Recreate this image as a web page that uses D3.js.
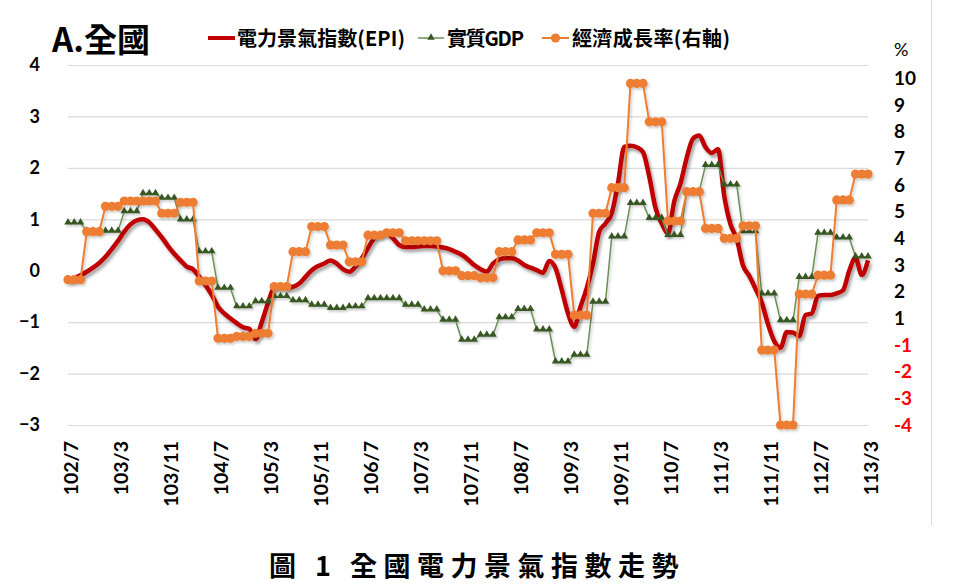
<!DOCTYPE html>
<html>
<head>
<meta charset="utf-8">
<script src="https://cdn.jsdelivr.net/npm/d3@7"></script>
<style>
  body { margin: 0; background: #fff; }
  svg { display: block; }
</style>
</head>
<body>
<div id="vis"></div>
<script>
var width = 959;
var height = 587;

// x axis tick labels (every 8 months, ROC year/month)
const TICK_LABELS = ["102/7", "103/3", "103/11", "104/7", "105/3", "105/11", "106/7", "107/3",
  "107/11", "108/7", "109/3", "109/11", "110/7", "111/3", "111/11", "112/7", "113/3"];

// right axis labels, as printed on the chart (bottom to top)
const RIGHT_LABELS = ["-4", "-3", "-2", "-1", "1", "2", "3", "4", "5", "6", "7", "8", "9", "10"];

// 電力景氣指數(EPI), monthly 102/7 .. 113/3
const EPI = [
  -0.19, -0.15, -0.09, -0.02, 0.06, 0.15, 0.27, 0.42, 0.58, 0.76, 0.9, 0.98,
  1.0, 0.94, 0.8, 0.65, 0.48, 0.33, 0.2, 0.08, 0.03, -0.12, -0.28, -0.47,
  -0.7, -0.83, -0.93, -1.02, -1.1, -1.13, -1.33, -1.0, -0.63, -0.32, -0.3, -0.32,
  -0.31, -0.25, -0.12, 0.01, 0.09, 0.14, 0.2, 0.14, 0.03, -0.02, 0.08, 0.24,
  0.44, 0.63, 0.71, 0.73, 0.63, 0.5, 0.46, 0.46, 0.47, 0.48, 0.48, 0.47,
  0.45, 0.42, 0.37, 0.31, 0.22, 0.11, 0.03, -0.02, 0.14, 0.22, 0.24, 0.24,
  0.2, 0.11, 0.06, 0.01, -0.04, 0.19, 0.05, -0.37, -0.83, -1.09, -0.7, -0.34,
  0.14, 0.76, 0.92, 1.12, 1.7, 2.41, 2.43, 2.4, 2.31, 1.83, 1.22, 0.92,
  0.72, 1.35, 1.7, 2.2, 2.57, 2.63, 2.4, 2.29, 2.36, 1.45, 0.9, 0.62,
  0.1, -0.1, -0.35, -0.62, -1.04, -1.37, -1.5, -1.19, -1.2, -1.27, -0.86, -0.83,
  -0.49, -0.47, -0.47, -0.44, -0.38, 0.0, 0.25, -0.08, 0.2
];

// 實質GDP (left axis), quarterly 102Q3 .. 113Q1
const GDP = [
  0.93, 0.77, 0.77, 1.15, 1.5, 1.41, 0.99, 0.37, -0.34, -0.7,
  -0.6, -0.5, -0.58, -0.67, -0.73, -0.7, -0.54, -0.54, -0.67, -0.76,
  -0.96, -1.35, -1.25, -0.91, -0.75, -1.15, -1.77, -1.64, -0.61, 0.66,
  1.31, 1.02, 0.69, 1.54, 2.05, 1.67, 0.76, -0.45, -0.97, -0.13,
  0.73, 0.64, 0.27
];

// 經濟成長率 (right axis, %), quarterly 102Q3 .. 113Q1
const GROWTH = [
  1.45, 3.25, 4.2, 4.4, 4.4, 3.94, 4.35, 1.4, -0.75, -0.68,
  -0.56, 1.19, 2.5, 3.44, 2.75, 2.12, 3.12, 3.21, 2.91, 2.91,
  1.78, 1.6, 1.52, 2.5, 2.94, 3.21, 2.4, 0.12, 3.94, 4.9,
  8.81, 7.37, 3.65, 4.75, 3.37, 3.0, 3.47, -1.19, -4.0, 0.91,
  1.62, 4.44, 5.41
];

const RED = "#C00000";
const GREEN_LINE = "#6a8f55";
const GREEN_MARK = "#375623";
const ORANGE = "#ED7D31";
const NUM_FONT = "Lato, 'Open Sans', sans-serif";
const CJK_FONT = "'Noto Sans CJK TC', 'Noto Sans', sans-serif";

// month categories 102/7 .. 113/3
var months = [];
for (var k = 0; k < EPI.length; k++) {
  var m = 7 + k;
  months.push((102 + Math.floor((m - 1) / 12)) + "/" + (((m - 1) % 12) + 1));
}
// quarterly values are plotted on each month of the quarter
function monthly(q) {
  return months.map(function (mo, i) { return { m: mo, v: q[Math.floor(i / 3)] }; });
}

var svg = d3.select("#vis").append("svg")
  .attr("width", width)
  .attr("height", height);

var defs = svg.append("defs");
var f = defs.append("filter").attr("id", "shadow")
  .attr("x", "-5%").attr("y", "-5%").attr("width", "110%").attr("height", "120%");
f.append("feDropShadow").attr("dx", 2).attr("dy", 3).attr("stdDeviation", 1.6)
  .attr("flood-color", "#000").attr("flood-opacity", 0.35);
var f2 = defs.append("filter").attr("id", "shadow2")
  .attr("x", "-5%").attr("y", "-5%").attr("width", "110%").attr("height", "120%");
f2.append("feDropShadow").attr("dx", 1.5).attr("dy", 2).attr("stdDeviation", 1.2)
  .attr("flood-color", "#000").attr("flood-opacity", 0.2);

// Scales
var x = d3.scalePoint().domain(months).range([68, 868]);
var yL = d3.scaleLinear().domain([-3, 4]).range([425, 65]);
var yR = d3.scaleLinear().domain([-4, 9.5]).range([425, 65]);

// border line on the right
svg.append("line").attr("x1", 931.5).attr("x2", 931.5).attr("y1", 0).attr("y2", 525)
  .attr("stroke", "#d9d9d9").attr("stroke-width", 1);

// Grid
svg.append("g")
  .attr("transform", "translate(68,0)")
  .call(d3.axisLeft(yL).tickValues([-3, -2, -1, 1, 2, 3, 4]).tickSize(-800).tickFormat(""))
  .call(function (g) { g.select(".domain").remove(); })
  .selectAll("line").attr("stroke", "#d9d9d9").attr("stroke-width", 1.2);

// Left axis
svg.append("g")
  .attr("transform", "translate(68,0)")
  .call(d3.axisLeft(yL).ticks(7).tickSize(0).tickPadding(28))
  .call(function (g) { g.select(".domain").remove(); })
  .selectAll("text")
  .attr("font-family", NUM_FONT).attr("font-weight", "bold")
  .attr("font-size", 18).attr("fill", "#000");

// Right axis
svg.append("g")
  .attr("transform", "translate(868,0)")
  .call(d3.axisRight(yR).tickValues(d3.range(-4, 10)).tickSize(0).tickPadding(26)
    .tickFormat(function (d, i) { return RIGHT_LABELS[i]; }))
  .call(function (g) { g.select(".domain").remove(); })
  .selectAll("text")
  .attr("font-family", NUM_FONT).attr("font-weight", "bold")
  .attr("font-size", 19)
  .attr("fill", function (d, i) { return RIGHT_LABELS[i].charAt(0) == "-" ? "#FF0000" : "#000"; });

// X axis
svg.append("g")
  .attr("transform", "translate(0,425)")
  .call(d3.axisBottom(x).tickValues(TICK_LABELS).tickSize(0))
  .call(function (g) { g.select(".domain").remove(); })
  .selectAll("text")
  .attr("font-family", NUM_FONT).attr("font-weight", "bold")
  .attr("font-size", 19.5).attr("fill", "#000")
  .attr("text-anchor", "end")
  .attr("x", 0).attr("y", 0).attr("dy", "0.35em")
  .attr("transform", "translate(3,16) rotate(-90)");

// EPI line
var lineL = d3.line()
  .x(function (d) { return x(d.m); })
  .y(function (d) { return yL(d.v); })
  .curve(d3.curveMonotoneX);
svg.append("path")
  .datum(months.map(function (mo, i) { return { m: mo, v: EPI[i] }; }))
  .attr("d", lineL)
  .attr("fill", "none")
  .attr("stroke", RED)
  .attr("stroke-width", 4.5)
  .attr("stroke-linejoin", "round")
  .attr("filter", "url(#shadow)");

// GDP line + triangles
var gdpData = monthly(GDP);
var lineStraightL = d3.line()
  .x(function (d) { return x(d.m); })
  .y(function (d) { return yL(d.v); });
var gG = svg.append("g").attr("filter", "url(#shadow2)");
gG.append("path")
  .datum(gdpData)
  .attr("d", lineStraightL)
  .attr("fill", "none")
  .attr("stroke", GREEN_LINE)
  .attr("stroke-width", 1.5);
gG.selectAll(".tri")
  .data(gdpData)
  .enter()
  .append("path")
  .attr("class", "tri")
  .attr("d", d3.symbol().type(d3.symbolTriangle).size(24))
  .attr("transform", function (d) { return "translate(" + x(d.m) + "," + (yL(d.v) - 0.5) + ")"; })
  .attr("fill", GREEN_MARK);

// Growth line + circles
var grData = monthly(GROWTH);
var lineR = d3.line()
  .x(function (d) { return x(d.m); })
  .y(function (d) { return yR(d.v); });
var gO = svg.append("g").attr("filter", "url(#shadow2)");
gO.append("path")
  .datum(grData)
  .attr("d", lineR)
  .attr("fill", "none")
  .attr("stroke", ORANGE)
  .attr("stroke-width", 2);
gO.selectAll(".dot")
  .data(grData)
  .enter()
  .append("circle")
  .attr("class", "dot")
  .attr("cx", function (d) { return x(d.m); })
  .attr("cy", function (d) { return yR(d.v); })
  .attr("r", 4.6)
  .attr("fill", ORANGE);

// Title
svg.append("text").attr("x", 52).attr("y", 52)
  .attr("font-family", CJK_FONT).attr("font-weight", "bold").attr("font-size", 33)
  .attr("fill", "#000").text("A.全國");

// Legend
var lg = svg.append("g").attr("font-family", CJK_FONT).attr("font-weight", "bold")
  .attr("font-size", 20).attr("fill", "#000");
lg.append("line").attr("x1", 208).attr("x2", 235).attr("y1", 38).attr("y2", 38)
  .attr("stroke", RED).attr("stroke-width", 4);
lg.append("text").attr("x", 237).attr("y", 46).attr("textLength", 168).text("電力景氣指數(EPI)");
lg.append("line").attr("x1", 418).attr("x2", 444).attr("y1", 38).attr("y2", 38)
  .attr("stroke", GREEN_LINE).attr("stroke-width", 1.5);
lg.append("path").attr("d", d3.symbol().type(d3.symbolTriangle).size(24))
  .attr("transform", "translate(431,37.5)").attr("fill", GREEN_MARK);
lg.append("text").attr("x", 447).attr("y", 46).attr("textLength", 77).text("實質GDP");
lg.append("line").attr("x1", 542).attr("x2", 569).attr("y1", 38).attr("y2", 38)
  .attr("stroke", ORANGE).attr("stroke-width", 2);
lg.append("circle").attr("cx", 555.5).attr("cy", 38).attr("r", 4.6).attr("fill", ORANGE);
lg.append("text").attr("x", 572).attr("y", 46).attr("textLength", 158).text("經濟成長率(右軸)");

svg.append("text").attr("x", 894).attr("y", 56)
  .attr("font-family", NUM_FONT).attr("font-size", 18).attr("fill", "#000").text("%");

// Caption
svg.append("text").attr("x", 477).attr("y", 576)
  .attr("text-anchor", "middle")
  .attr("font-family", CJK_FONT).attr("font-weight", "bold").attr("font-size", 27)
  .attr("letter-spacing", 6.5)
  .attr("fill", "#000").text("圖 1 全國電力景氣指數走勢");
</script>
</body>
</html>
